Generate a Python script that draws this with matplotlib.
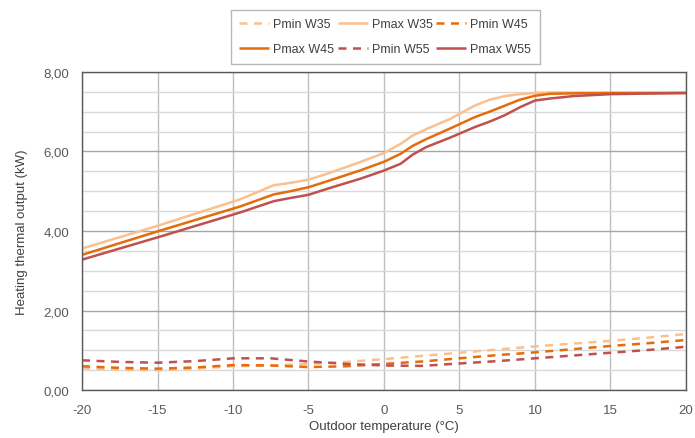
import matplotlib
matplotlib.use("Agg")
import matplotlib.pyplot as plt
from matplotlib.ticker import MultipleLocator, FuncFormatter

plt.rcParams['font.family'] = ['Liberation Sans', 'DejaVu Sans']
plt.rcParams['axes.unicode_minus'] = False

# ---- data ----
x_max = [-20, -15, -9.5, -7.3, -6.2, -5, -3.6, -1.6, 0, 1.1, 1.9, 2.8, 4.4, 6, 7, 8, 9, 10, 11, 12.5, 15, 20]
pmax_w35 = [3.56, 4.13, 4.80, 5.15, 5.21, 5.29, 5.46, 5.73, 5.96, 6.19, 6.40, 6.56, 6.82, 7.15, 7.30, 7.39, 7.44, 7.47, 7.48, 7.48, 7.47, 7.47]
pmax_w45 = [3.40, 3.99, 4.62, 4.92, 5.00, 5.10, 5.27, 5.52, 5.74, 5.94, 6.14, 6.31, 6.58, 6.86, 7.00, 7.15, 7.30, 7.40, 7.45, 7.46, 7.47, 7.47]
pmax_w55 = [3.28, 3.84, 4.47, 4.75, 4.83, 4.91, 5.08, 5.31, 5.52, 5.69, 5.92, 6.11, 6.35, 6.61, 6.75, 6.91, 7.11, 7.28, 7.33, 7.39, 7.44, 7.47]

x_min = [-20, -17.5, -15, -12.5, -10, -7.5, -5, -2.5, 0, 2.5, 5, 7.5, 10, 12.5, 15, 17.5, 20]
pmin_w35 = [0.55, 0.52, 0.50, 0.54, 0.60, 0.62, 0.66, 0.71, 0.78, 0.86, 0.94, 1.02, 1.10, 1.17, 1.24, 1.32, 1.41]
pmin_w45 = [0.60, 0.56, 0.54, 0.57, 0.63, 0.62, 0.58, 0.60, 0.66, 0.72, 0.80, 0.88, 0.95, 1.03, 1.11, 1.18, 1.26]
pmin_w55 = [0.75, 0.71, 0.69, 0.73, 0.80, 0.80, 0.72, 0.66, 0.62, 0.61, 0.67, 0.73, 0.80, 0.87, 0.94, 1.01, 1.09]

x_ticks = [-20, -15, -10, -5, 0, 5, 10, 15, 20]

c35 = "#FAC08F"
c45 = "#E46C0A"
c55 = "#C0504D"

fig = plt.figure(figsize=(6.95, 4.39), dpi=100)
ax = fig.add_axes([0.118, 0.109, 0.869, 0.725])

lw = 1.8
dash = (0, (3.2, 2.6))
l1, = ax.plot(x_min, pmin_w35, color=c35, lw=lw, linestyle=dash, label="Pmin W35")
l2, = ax.plot(x_max, pmax_w35, color=c35, lw=lw, label="Pmax W35")
l3, = ax.plot(x_min, pmin_w45, color=c45, lw=lw, linestyle=dash, label="Pmin W45")
l4, = ax.plot(x_max, pmax_w45, color=c45, lw=lw, label="Pmax W45")
l5, = ax.plot(x_min, pmin_w55, color=c55, lw=lw, linestyle=dash, label="Pmin W55")
l6, = ax.plot(x_max, pmax_w55, color=c55, lw=lw, label="Pmax W55")
for l in (l1, l2, l3, l4, l5, l6):
    l.set_solid_joinstyle('round')
    l.set_solid_capstyle('butt')

ax.set_xlim(-20, 20)
ax.set_ylim(0, 8)
ax.set_xticks(x_ticks)
ax.yaxis.set_major_locator(MultipleLocator(2))
ax.yaxis.set_minor_locator(MultipleLocator(0.5))
ax.yaxis.set_major_formatter(FuncFormatter(lambda v, p: f"{v:.2f}".replace(".", ",")))

ax.grid(True, axis='y', which='major', color="#A6A6A6", lw=1.0)
ax.grid(True, axis='y', which='minor', color="#D9D9D9", lw=1.0)
ax.grid(True, axis='x', which='major', color="#BFBFBF", lw=1.0)
ax.set_axisbelow(True)

for s in ax.spines.values():
    s.set_color("#595959")
    s.set_linewidth(1.0)

ax.tick_params(axis='both', which='both', length=0, labelsize=9.5, labelcolor="#595959")
ax.tick_params(axis='x', pad=10)
ax.tick_params(axis='y', pad=9)

ax.set_xlabel("Outdoor temperature (°C)", fontsize=9.5, color="#404040", labelpad=3)
ax.set_ylabel("Heating thermal output (kW)", fontsize=9.5, color="#404040", labelpad=11)

# row-major legend order for 3 columns x 2 rows
handles = [l1, l4, l2, l5, l3, l6]
leg = fig.legend(handles=handles, ncol=3, loc='upper center',
                 bbox_to_anchor=(0.554, 0.99), fontsize=9, frameon=True,
                 fancybox=False, edgecolor="#A6A6A6", handlelength=2.4,
                 handletextpad=0.3, columnspacing=0.3, borderpad=0.7,
                 labelspacing=1.0)
for t in leg.get_texts():
    t.set_color("#404040")
leg.get_frame().set_linewidth(1.0)

fig.savefig("out.png", dpi=100)
